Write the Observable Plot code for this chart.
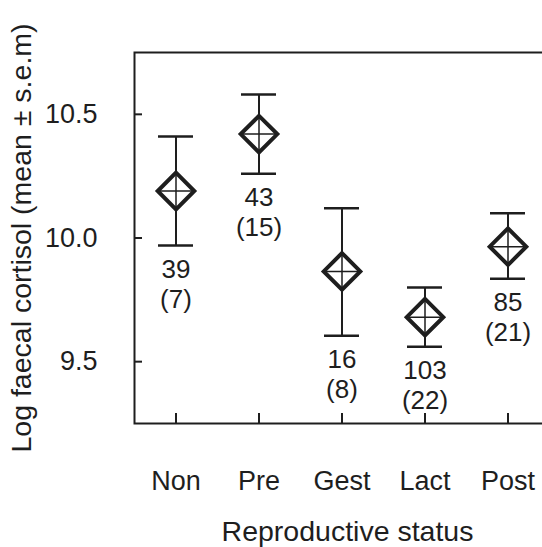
<!DOCTYPE html>
<html><head><meta charset="utf-8">
<script src="https://cdn.jsdelivr.net/npm/d3@7"></script>
<script src="https://cdn.jsdelivr.net/npm/@observablehq/plot@0.6"></script>
<style>body{margin:0;background:#fff} #wrap{width:542px;height:547px;overflow:hidden} #wrap svg{max-width:none !important}</style>
</head><body><div id="wrap"></div>
<script>
const categories = ["Non", "Pre", "Gest", "Lact", "Post"];
const means = [10.19, 10.42, 9.865, 9.68, 9.965];
const lower = [9.97, 10.26, 9.605, 9.56, 9.835];
const upper = [10.41, 10.58, 10.12, 9.80, 10.10];
const nSamples = [39, 43, 16, 103, 85];
const nIndividuals = [7, 15, 8, 22, 21];
const yTicks = [9.5, 10.0, 10.5];

const data = categories.map((c, i) => ({
  status: c, mean: means[i], lo: lower[i], hi: upper[i],
  label: `${nSamples[i]}\n(${nIndividuals[i]})`
}));
const ink = "#1e1e1e";

const chart = Plot.plot({
  width: 560, height: 547,
  marginLeft: 134, marginRight: 0, marginTop: 52, marginBottom: 124,
  style: {fontFamily: "'Liberation Sans', Arial, sans-serif", fontSize: "27px", color: ink, background: "#fff", maxWidth: "none"},
  x: {type: "band", domain: categories, range: [132.25, 549.75], padding: 0},
  y: {domain: [9.25, 10.75]},
  marks: [
    Plot.frame({stroke: ink, strokeWidth: 2}),
    Plot.axisY({ticks: yTicks, tickSize: -8, strokeWidth: 2, fill: "none", label: null}),
    Plot.axisY({ticks: yTicks, tickSize: 0, tickPadding: 37, tickFormat: ".1f", label: null}),
    Plot.axisY({ticks: [], tickSize: 0, fontSize: 28.5,
      label: "Log faecal cortisol (mean ± s.e.m)", labelAnchor: "center", labelArrow: "none", labelOffset: 124}),
    Plot.axisX({tickSize: -10, strokeWidth: 2, fill: "none", label: null}),
    Plot.axisX({tickSize: 0, tickPadding: 47, label: null}),
    Plot.axisX({ticks: [], tickSize: 0, fontSize: 28.5, label: "Reproductive status", labelAnchor: "center", labelOffset: 117}),
    Plot.ruleX(data, {x: "status", y1: "lo", y2: "hi", stroke: ink, strokeWidth: 2}),
    Plot.tickY(data, {x: "status", y: "hi", insetLeft: 24, insetRight: 24, stroke: ink, strokeWidth: 2.5}),
    Plot.tickY(data, {x: "status", y: "lo", insetLeft: 24, insetRight: 24, stroke: ink, strokeWidth: 2.5}),
    Plot.dot(data, {x: "status", y: "mean", symbol: "diamond2", r: 16.5, stroke: ink, strokeWidth: 4, fill: "#fff"}),
    Plot.dot(data, {x: "status", y: "mean", symbol: "plus", r: 11.6, stroke: ink, strokeWidth: 1.5}),
    Plot.text(data, {x: "status", y: "lo", text: "label", lineAnchor: "top", dy: 11, fontSize: 26, lineHeight: 1.15, fill: ink})
  ]
});
document.getElementById("wrap").appendChild(chart);
</script>
</body></html>
